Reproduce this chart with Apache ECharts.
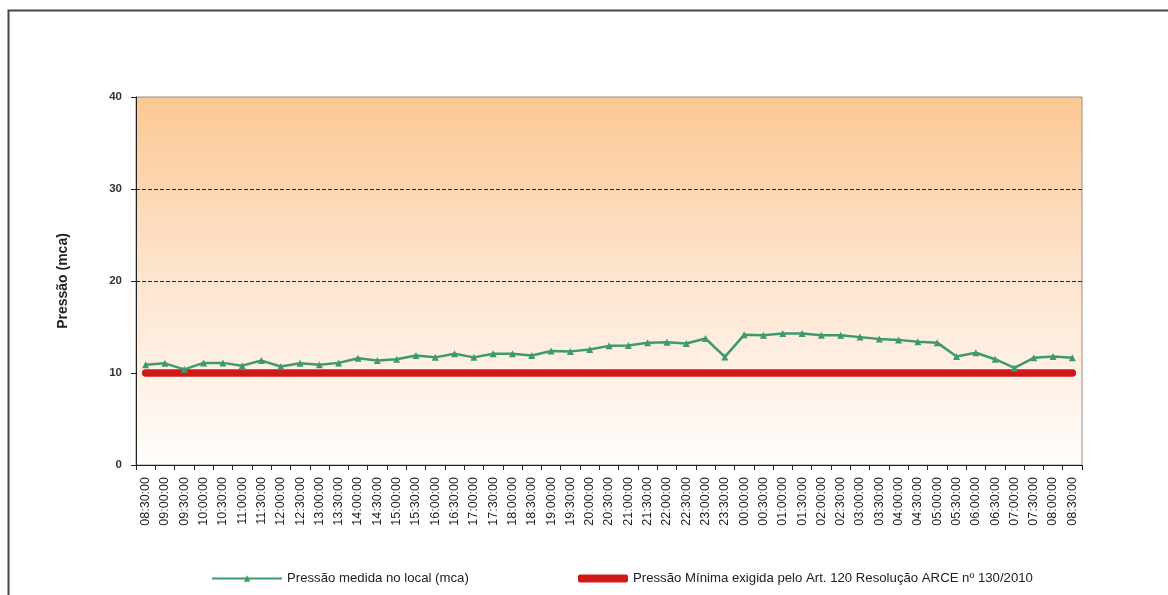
<!DOCTYPE html>
<html>
<head>
<meta charset="utf-8">
<script src="https://cdn.jsdelivr.net/npm/echarts@6/dist/echarts.min.js"></script>
<style>
html,body{margin:0;padding:0;background:#fff;}
#c{width:1168px;height:595px;}
</style>
</head>
<body>
<div id="c"></div>
<script>
const categories = ["08:30:00","09:00:00","09:30:00","10:00:00","10:30:00","11:00:00","11:30:00","12:00:00","12:30:00","13:00:00","13:30:00","14:00:00","14:30:00","15:00:00","15:30:00","16:00:00","16:30:00","17:00:00","17:30:00","18:00:00","18:30:00","19:00:00","19:30:00","20:00:00","20:30:00","21:00:00","21:30:00","22:00:00","22:30:00","23:00:00","23:30:00","00:00:00","00:30:00","01:00:00","01:30:00","02:00:00","02:30:00","03:00:00","03:30:00","04:00:00","04:30:00","05:00:00","05:30:00","06:00:00","06:30:00","07:00:00","07:30:00","08:00:00","08:30:00"];
const pressaoMedida = [10.9,11.05,10.4,11.1,11.1,10.8,11.35,10.7,11.05,10.9,11.1,11.6,11.35,11.5,11.9,11.7,12.1,11.7,12.1,12.1,11.9,12.4,12.35,12.55,12.95,13.0,13.3,13.35,13.2,13.75,11.75,14.15,14.1,14.3,14.3,14.1,14.1,13.9,13.7,13.6,13.4,13.3,11.8,12.2,11.5,10.55,11.65,11.8,11.65];
const pressaoMinima = categories.map(() => 10);
const yTicks = {min: 0, max: 40, interval: 10};
const gridLines = [20, 30];
const seriesNames = ["Pressão medida no local (mca)", "Pressão Mínima exigida pelo Art. 120 Resolução ARCE nº 130/2010"];

const legendText = {fontFamily: 'Liberation Sans, Arial', fontSize: 13.2, color: '#222'};
const chart = echarts.init(document.getElementById('c'), null, {renderer: 'canvas'});
chart.setOption({
  animation: false,
  backgroundColor: '#ffffff',
  graphic: [{
    type: 'rect', left: 6, top: 8,
    shape: {width: 1170, height: 600},
    style: {fill: 'none', stroke: '#444', lineWidth: 2},
    silent: true, z: 100
  }],
  grid: {
    left: 136, right: 86, top: 97, bottom: 130,
    show: true,
    borderColor: '#9a8c80',
    borderWidth: 1,
    backgroundColor: {
      type: 'linear', x: 0, y: 0, x2: 0, y2: 1,
      colorStops: [
        {offset: 0, color: '#fcc892'},
        {offset: 0.45, color: '#fde2cb'},
        {offset: 1, color: '#fffdfb'}
      ]
    }
  },
  legend: [
    {
      left: 206, bottom: 5,
      itemWidth: 70, itemHeight: 8,
      textStyle: legendText,
      data: [{name: seriesNames[0]}]
    },
    {
      left: 573, bottom: 5,
      itemWidth: 50, itemHeight: 8,
      textStyle: legendText,
      data: [{name: seriesNames[1], icon: 'roundRect', itemStyle: {color: '#d01818'}}]
    }
  ],
  xAxis: {
    type: 'category',
    data: categories,
    boundaryGap: true,
    axisLine: {lineStyle: {color: '#222', width: 1}},
    axisTick: {show: true, interval: 0, length: 5, lineStyle: {color: '#222'}},
    axisLabel: {
      interval: 0, rotate: 90, margin: 12,
      fontFamily: 'Liberation Sans, Arial', fontSize: 12.5, color: '#222'
    },
    splitLine: {show: false}
  },
  yAxis: {
    type: 'value',
    min: yTicks.min, max: yTicks.max, interval: yTicks.interval,
    name: 'Pressão (mca)',
    nameLocation: 'middle',
    nameGap: 66,
    nameTextStyle: {fontFamily: 'Liberation Sans, Arial', fontSize: 14, fontWeight: 'bold', color: '#222'},
    axisLine: {show: true, lineStyle: {color: '#222', width: 1}},
    axisTick: {show: true, length: 5, lineStyle: {color: '#222'}},
    axisLabel: {fontFamily: 'Liberation Sans, Arial', fontSize: 11.5, fontWeight: 'bold', color: '#333', margin: 14},
    splitLine: {show: false}
  },
  series: [
    {
      name: seriesNames[1],
      type: 'line',
      data: pressaoMinima,
      symbol: 'none',
      lineStyle: {color: '#d01818', width: 7.5, cap: 'round'},
      itemStyle: {color: '#d01818'},
      z: 2,
      markLine: {
        silent: true,
        symbol: 'none',
        label: {show: false},
        lineStyle: {color: '#222', type: [4, 2], width: 1},
        data: gridLines.map(v => ({yAxis: v}))
      }
    },
    {
      name: seriesNames[0],
      type: 'line',
      data: pressaoMedida,
      symbol: 'triangle',
      symbolSize: 7,
      lineStyle: {color: '#3d9a6c', width: 2.5},
      itemStyle: {color: '#3d9a6c'},
      z: 3
    }
  ]
});
</script>
</body>
</html>
